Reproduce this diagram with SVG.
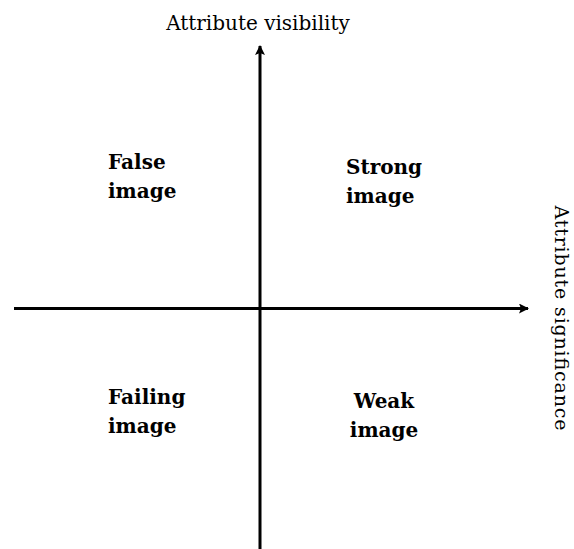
<svg xmlns="http://www.w3.org/2000/svg" width="574" height="549" viewBox="0 0 574 549">
<defs>
<style>
.axis{stroke:#000;stroke-width:3;fill:none}
.lbl{font-family:"DejaVu Serif","Liberation Serif",serif;font-size:20px;fill:#000}
.q{font-family:"DejaVu Serif","Liberation Serif",serif;font-size:20px;font-weight:bold;fill:#000}
</style>
<marker id="ah" viewBox="0 0 10 10" refX="9" refY="5" markerWidth="10" markerHeight="10" markerUnits="userSpaceOnUse" orient="auto">
<path d="M0,0 L10,5 L0,10 L2,5 Z" fill="#000"/>
</marker>
</defs>
<rect width="574" height="549" fill="#fff"/>
<g id="connectors">
<line class="axis" x1="260" y1="549" x2="260" y2="46" marker-end="url(#ah)"/>
<line class="axis" x1="14" y1="308.5" x2="528" y2="308.5" marker-end="url(#ah)"/>
</g>
<g id="y-label"><text class="lbl" x="258" y="30" text-anchor="middle">Attribute visibility</text></g>
<g id="x-label"><text class="lbl" style="font-size:19px" transform="translate(555,318) rotate(90)" text-anchor="middle" textLength="225" lengthAdjust="spacing">Attribute significance</text></g>
<g id="false-image"><text class="q" x="108" y="169">False</text><text class="q" x="108" y="198">image</text></g>
<g id="strong-image"><text class="q" x="346" y="174">Strong</text><text class="q" x="346" y="203">image</text></g>
<g id="failing-image"><text class="q" x="108" y="404">Failing</text><text class="q" x="108" y="433">image</text></g>
<g id="weak-image"><text class="q" x="384" y="408" text-anchor="middle">Weak</text><text class="q" x="384" y="437" text-anchor="middle">image</text></g>
</svg>
